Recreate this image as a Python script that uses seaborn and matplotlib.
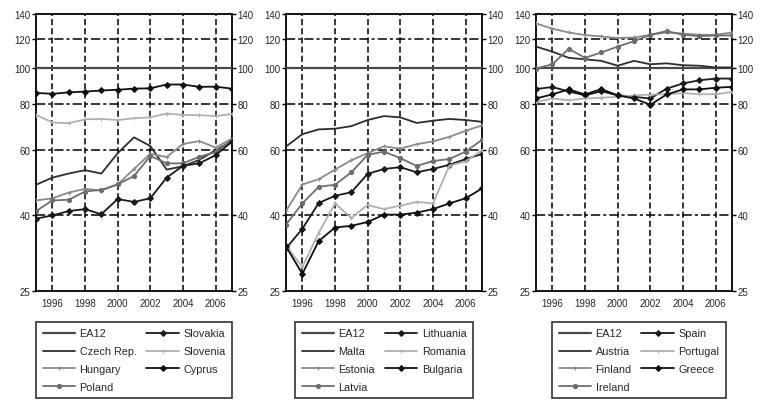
import numpy as np
import pandas as pd
import matplotlib
matplotlib.use("Agg")
import matplotlib.pyplot as plt
import seaborn as sns

years = list(range(1995, 2008))

# Panel 1
p1_names = ["EA12", "Czech Rep.", "Hungary", "Poland", "Slovakia", "Slovenia", "Cyprus"]
ea12 = [100] * 13
czech = [48.4, 50.6, 51.9, 53.0, 51.9, 58.9, 65.0, 61.6, 53.2, 54.3, 56.5, 60.0, 63.5]
hungary = [43.9, 44.5, 46.1, 47.2, 46.7, 48.5, 53.4, 58.7, 57.5, 62.4, 63.5, 61.0, 64.5]
poland = [41.1, 43.9, 44.1, 46.4, 46.9, 48.5, 51.1, 57.9, 55.3, 55.3, 57.6, 59.3, 64.0]
slovakia = [39.2, 40.0, 41.1, 41.6, 40.3, 44.3, 43.5, 44.5, 50.6, 54.5, 55.3, 58.2, 63.3]
slovenia = [74.8, 71.3, 71.0, 72.7, 72.9, 72.4, 73.2, 73.6, 75.4, 74.7, 74.6, 74.2, 75.2]
cyprus = [85.7, 85.2, 86.0, 86.4, 87.0, 87.4, 88.0, 88.2, 90.3, 90.3, 89.0, 89.1, 88.0]

# Panel 2
p2_names = ["EA12", "Malta", "Estonia", "Latvia", "Lithuania", "Romania", "Bulgaria"]
malta = [61.4, 66.3, 68.3, 68.6, 69.7, 72.4, 74.2, 73.6, 71.1, 72.1, 72.9, 72.4, 71.6]
estonia = [41.1, 48.5, 50.1, 53.2, 56.4, 58.9, 61.5, 60.6, 62.3, 63.4, 65.2, 67.7, 70.0]
latvia = [37.8, 43.1, 47.8, 48.4, 52.3, 58.3, 59.5, 57.1, 54.4, 56.1, 56.8, 59.5, 64.0]
lithuania = [32.6, 36.8, 43.2, 45.2, 46.2, 51.8, 53.4, 54.0, 52.3, 53.4, 54.8, 56.8, 58.6]
romania = [33.2, 29.0, 35.9, 43.1, 39.4, 42.7, 41.6, 42.5, 43.5, 43.1, 54.5, 56.0, 60.0]
bulgaria = [33.0, 27.8, 34.1, 37.1, 37.5, 38.4, 40.2, 40.2, 40.7, 41.6, 43.1, 44.5, 47.3]

# Panel 3
p3_names = ["EA12", "Austria", "Finland", "Ireland", "Spain", "Portugal", "Greece"]
austria = [114.3, 110.8, 106.6, 105.6, 104.6, 101.5, 104.6, 102.4, 103.0, 101.8, 101.5, 100.4, 100.4]
finland = [132.0, 127.8, 124.8, 122.8, 121.8, 120.5, 121.0, 123.0, 124.8, 124.0, 123.0, 123.0, 124.8]
ireland = [99.7, 102.4, 112.7, 106.6, 110.2, 114.3, 118.2, 123.0, 125.9, 123.0, 122.0, 122.5, 122.5]
spain = [87.8, 88.9, 86.5, 84.4, 86.6, 84.4, 83.6, 82.8, 88.0, 90.9, 92.7, 93.7, 93.7]
portugal = [80.9, 82.8, 81.9, 82.8, 83.2, 83.6, 84.4, 84.8, 85.0, 85.6, 85.0, 85.0, 86.2]
greece = [82.8, 84.9, 87.6, 84.9, 87.8, 84.4, 82.8, 79.6, 84.9, 87.6, 87.6, 88.5, 89.0]

panels = [
    (p1_names, [ea12, czech, hungary, poland, slovakia, slovenia, cyprus]),
    (p2_names, [ea12, malta, estonia, latvia, lithuania, romania, bulgaria]),
    (p3_names, [ea12, austria, finland, ireland, spain, portugal, greece]),
]
# style slots: color, marker, markersize
slot_styles = [
    ("#4a4a4a", "", 0),
    ("#2e2e2e", "", 0),
    ("#8a8a8a", "+", 3),
    ("#6e6e6e", "o", 3),
    ("#1a1a1a", "D", 3),
    ("#b0b0b0", "+", 3),
    ("#101010", "D", 3),
]

sns.set_style("white")
plt.rcParams["font.family"] = ["Liberation Sans", "DejaVu Sans"]

fig = plt.figure(figsize=(7.64, 4.02), dpi=100)
W, H = 764.0, 402.0
lefts = [36, 286, 536]
leg_centers = [134, 384, 639]
aw = 196
top, bottom = 15, 292
yticks = [25, 40, 60, 80, 100, 120, 140]

for (names, series), lp, lc in zip(panels, lefts, leg_centers):
    ax = fig.add_axes([lp / W, 1 - bottom / H, aw / W, (bottom - top) / H])
    ax.set_yscale("log")
    for yv in [40, 60, 80, 120]:
        ax.axhline(yv, color="black", lw=1.1, dashes=(6, 2, 2, 2), zorder=1)
    for xv in range(1996, 2007, 2):
        ax.axvline(xv, color="black", lw=1.1, dashes=(4, 2), zorder=1)
    for i, (nm, vals) in enumerate(zip(names, series)):
        c, m, ms = slot_styles[i]
        df = pd.DataFrame({"year": years, "value": vals})
        sns.lineplot(data=df, x="year", y="value", ax=ax, color=c,
                     marker=m if m else None, markersize=ms,
                     markeredgecolor=c, lw=1.3 if i else 1.6, zorder=3 + i,
                     label=nm, legend=False)
    ax.set_xlim(1995, 2007)
    ax.set_ylim(25, 140)
    ax.set_yticks(yticks)
    ax.set_yticklabels([str(t) for t in yticks])
    ax.yaxis.set_minor_locator(matplotlib.ticker.NullLocator())
    ax.set_xticks(range(1995, 2008))
    ax.set_xticklabels([str(y) if y % 2 == 0 else "" for y in range(1995, 2008)])
    ax.set_xlabel("")
    ax.set_ylabel("")
    ax.tick_params(axis="y", which="both", left=True, right=True, labelleft=True,
                   labelright=True, direction="out", length=3, width=1,
                   labelsize=7, pad=1, color="black")
    ax.tick_params(axis="x", direction="out", length=3, width=1, labelsize=7,
                   pad=2, color="black")
    for s in ax.spines.values():
        s.set_color("black")
        s.set_linewidth(1.3)
        s.set_visible(True)
    h, l = ax.get_legend_handles_labels()
    leg = fig.legend(h, l, loc="upper center",
                     bbox_to_anchor=(lc / W, 1 - 323 / H),
                     ncol=2, fontsize=7.8, frameon=True, fancybox=False,
                     edgecolor="black", handlelength=3.0, columnspacing=0.9,
                     labelspacing=0.72, borderpad=0.6, handletextpad=0.4,
                     borderaxespad=0)
    leg.get_frame().set_linewidth(1.2)

fig.savefig("out.png", dpi=100)
